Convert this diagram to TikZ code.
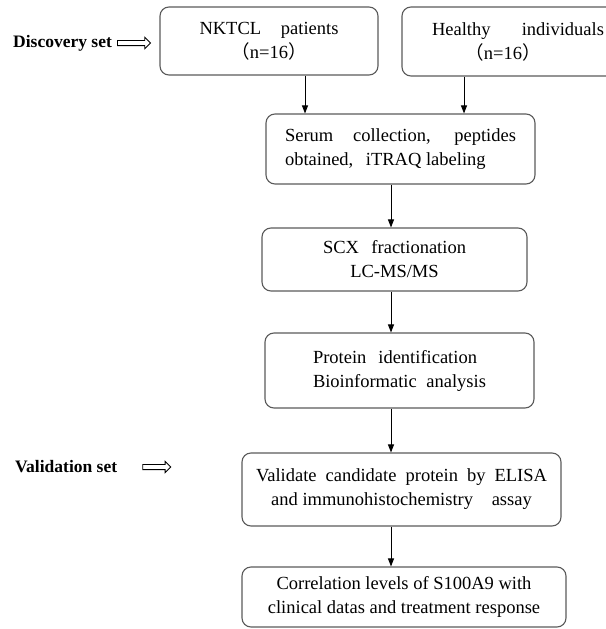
\documentclass[tikz,border=0pt]{standalone}
\usepackage{fontspec}
\setmainfont{Liberation Serif}
\newfontfamily\cjkfont{Noto Sans CJK SC}
\usepackage{tikz}
\usetikzlibrary{arrows.meta, positioning, shapes.arrows}
\definecolor{boxgray}{HTML}{5A5A5A}
\newcommand{\fillline}[2]{\makebox[#1][s]{#2}}
\newcommand{\cohortsize}{{\cjkfont （}n=16{\cjkfont ）}}

\begin{document}
\begin{tikzpicture}[x=1pt, y=-1pt,
  stage/.style={rectangle, draw=boxgray, line width=1.1pt, rounded corners=9pt, inner sep=0pt, align=center, font=\fontsize{18.5}{24}\selectfont},
  setname/.style={anchor=west, inner sep=0pt, font=\fontsize{17.5}{22}\selectfont\bfseries},
  setarrow/.style={single arrow, draw=black, line width=0.8pt, inner sep=2.2pt, single arrow head extend=3pt, single arrow head indent=0pt, minimum width=11pt},
  flow/.style={-{Triangle[length=8pt, width=6pt]}, line width=0.9pt}
]
  \useasboundingbox (0,0) rectangle (605,629);

  \node[stage, minimum width=218pt, minimum height=68pt] (nktcl) at (269,41) {\fillline{139pt}{NKTCL patients}\\\cohortsize};
  \node[stage, minimum width=232pt, minimum height=69pt] (healthy) at (518,41.5) {\fillline{172pt}{Healthy individuals}\\\hspace*{-30pt}\cohortsize};
  \node[stage, minimum width=269pt, minimum height=70pt, align=left] (serum) at (400.5,149) {\fillline{231pt}{Serum collection, peptides}\\obtained,\hspace{8pt} iTRAQ labeling};
  \node[stage, minimum width=265pt, minimum height=63pt] (scx) at (394.5,259.5) {\fillline{143pt}{SCX fractionation}\\LC-MS/MS};
  \node[stage, minimum width=269pt, minimum height=75pt, align=left] (protein) at (399.5,370.5) {\fillline{164pt}{Protein identification}\\\fillline{173pt}{Bioinformatic analysis}};
  \node[stage, minimum width=319pt, minimum height=73pt] (validate) at (401.5,489.5) {\fillline{291pt}{Validate candidate protein by ELISA}\\and immunohistochemistry\hspace{14pt} assay};
  \node[stage, minimum width=324pt, minimum height=60pt] (correl) at (404,597) {Correlation levels of S100A9 with\\clinical datas and treatment response};

  \node[setname] (discovery) at (13,43) {Discovery set};
  \node[setarrow, minimum height=33pt, right=5pt of discovery] (discoveryarrow) {};
  \node[setname] (validation) at (15,467) {Validation set};
  \node[setarrow, minimum height=28pt, right=25pt of validation] (validationarrow) {};

  \coordinate (leftdrop) at (305,0);
  \coordinate (rightdrop) at (464,0);
  \coordinate (spine) at (391,0);

  \draw[flow] (nktcl.south -| leftdrop) -- (serum.north -| leftdrop);
  \draw[flow] (healthy.south -| rightdrop) -- (serum.north -| rightdrop);
  \draw[flow] (serum.south -| spine) -- (scx.north -| spine);
  \draw[flow] (scx.south -| spine) -- (protein.north -| spine);
  \draw[flow] (protein.south -| spine) -- (validate.north -| spine);
  \draw[flow] (validate.south -| spine) -- (correl.north -| spine);
\end{tikzpicture}
\end{document}
